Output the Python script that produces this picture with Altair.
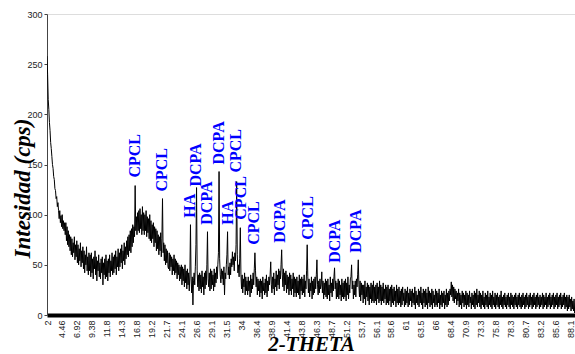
import altair as alt
import pandas as pd

# ---- intensity (cps); scan grid 2.0 deg, step 0.1 deg ----
intensity = [
    258, 240, 215, 205, 192, 184, 172, 166, 158, 150,   # 2
    146, 138, 135, 126, 124, 116, 118, 108, 112, 104,   # 3
    96, 104, 92, 99, 88, 100, 86, 94, 84, 92,           # 4
    80, 92, 74, 88, 70, 84, 68, 80, 64, 78,             # 5
    60, 76, 58, 72, 62, 78, 55, 70, 58, 74,             # 6
    52, 70, 50, 66, 54, 72, 48, 64, 52, 68,             # 7
    46, 64, 42, 60, 50, 68, 44, 58, 40, 62,             # 8
    44, 60, 38, 62, 42, 56, 36, 58, 46, 64,             # 9
    40, 58, 34, 54, 44, 60, 38, 52, 36, 56,             # 10
    42, 58, 30, 52, 40, 56, 36, 60, 38, 54,             # 11
    34, 56, 42, 60, 38, 54, 44, 62, 40, 58,             # 12
    42, 60, 46, 64, 40, 58, 48, 66, 44, 62,             # 13
    48, 66, 52, 70, 46, 64, 54, 72, 50, 68,             # 14
    56, 74, 60, 78, 58, 80, 64, 84, 62, 86,             # 15
    68, 90, 72, 88, 78, 129, 84, 98, 80, 102,           # 16
    84, 104, 82, 106, 86, 100, 80, 108, 84, 102,        # 17
    80, 100, 84, 104, 78, 98, 82, 96, 76, 100,          # 18
    74, 94, 72, 90, 76, 92, 68, 88, 72, 86,             # 19
    64, 84, 66, 80, 60, 78, 64, 82, 58, 76,             # 20
    116, 62, 72, 54, 70, 50, 66, 52, 64, 48,            # 21
    46, 62, 44, 60, 48, 58, 40, 56, 44, 60,             # 22
    40, 56, 42, 54, 36, 52, 40, 50, 34, 48,             # 23
    36, 50, 30, 48, 34, 46, 28, 50, 32, 44,             # 24
    26, 46, 30, 42, 24, 40, 90, 36, 22, 38,             # 25
    10, 34, 42, 30, 48, 70, 127, 44, 28, 40,            # 26
    24, 42, 26, 40, 22, 44, 28, 38, 20, 42,             # 27
    26, 44, 30, 50, 83, 36, 28, 42, 24, 46,             # 28
    26, 44, 30, 40, 24, 46, 28, 42, 32, 48,             # 29
    36, 50, 62, 143, 56, 40, 32, 46, 36, 44,            # 30
    30, 48, 20, 42, 36, 50, 60, 83, 40, 48,             # 31
    36, 52, 40, 56, 48, 63, 50, 58, 44, 62,             # 32
    54, 70, 133, 60, 42, 50, 38, 56, 87, 40,            # 33
    26, 40, 22, 36, 28, 42, 20, 38, 24, 34,             # 34
    20, 38, 24, 34, 18, 40, 22, 36, 26, 42,             # 35
    30, 46, 62, 44, 28, 38, 20, 36, 24, 34,             # 36
    18, 36, 22, 34, 16, 38, 24, 32, 20, 36,             # 37
    22, 40, 18, 34, 24, 38, 30, 40, 53, 30,             # 38
    22, 38, 26, 42, 20, 36, 28, 44, 24, 40,             # 39
    30, 46, 26, 44, 36, 50, 65, 40, 28, 46,             # 40
    24, 42, 30, 44, 22, 40, 26, 38, 20, 42,             # 41
    24, 40, 20, 36, 26, 42, 18, 38, 22, 36,             # 42
    18, 38, 22, 34, 20, 40, 16, 36, 24, 38,             # 43
    20, 36, 22, 40, 18, 34, 26, 44, 70, 38,             # 44
    22, 36, 18, 32, 24, 38, 16, 34, 20, 36,             # 45
    22, 38, 26, 40, 55, 30, 20, 34, 22, 36,             # 46
    26, 30, 43, 22, 34, 16, 32, 20, 36, 18,             # 47
    34, 16, 36, 20, 30, 14, 38, 22, 32, 18,             # 48
    36, 24, 38, 47, 26, 34, 16, 32, 18, 36,             # 49
    16, 34, 20, 30, 14, 36, 18, 32, 16, 34,             # 50
    18, 36, 14, 32, 20, 38, 16, 30, 22, 36,             # 51
    38, 50, 26, 34, 16, 30, 20, 34, 18, 36,             # 52
    28, 40, 55, 30, 18, 34, 14, 32, 20, 30,             # 53
    12, 30, 16, 34, 10, 28, 18, 32, 14, 30,             # 54
    10, 28, 16, 32, 12, 30, 14, 34, 12, 28,             # 55
    14, 30, 10, 32, 16, 28, 12, 34, 14, 30,             # 56
    10, 28, 14, 32, 12, 26, 16, 30, 10, 28,             # 57
    12, 30, 10, 26, 14, 28, 8, 30, 12, 26,              # 58
    10, 28, 14, 24, 8, 30, 12, 26, 10, 28,              # 59
    12, 24, 8, 26, 10, 28, 14, 22, 8, 26,               # 60
    10, 24, 12, 28, 8, 22, 10, 26, 14, 24,              # 61
    8, 26, 12, 22, 10, 28, 6, 24, 12, 20,               # 62
    10, 26, 8, 24, 12, 28, 10, 22, 6, 26,               # 63
    12, 24, 8, 26, 10, 22, 6, 28, 12, 24,               # 64
    8, 22, 10, 26, 6, 24, 12, 20, 8, 26,                # 65
    10, 24, 8, 22, 12, 26, 6, 20, 10, 24,               # 66
    8, 22, 12, 24, 6, 20, 10, 26, 8, 22,                # 67
    10, 24, 14, 26, 20, 33, 18, 30, 14, 28,             # 68
    12, 26, 16, 24, 10, 22, 14, 26, 8, 22,              # 69
    10, 20, 6, 24, 12, 22, 8, 20, 10, 24,               # 70
    6, 22, 10, 20, 8, 24, 12, 18, 6, 22,                # 71
    10, 20, 8, 24, 6, 22, 10, 26, 8, 20,                # 72
    12, 24, 8, 22, 6, 20, 10, 24, 8, 18,                # 73
    6, 22, 10, 20, 8, 24, 6, 18, 10, 22,                # 74
    8, 20, 6, 24, 10, 18, 8, 22, 6, 20,                 # 75
    10, 22, 8, 18, 6, 20, 10, 24, 8, 18,                # 76
    6, 20, 10, 22, 8, 18, 6, 20, 10, 22,                # 77
    8, 18, 6, 22, 10, 20, 8, 18, 6, 20,                 # 78
    10, 22, 8, 18, 6, 20, 10, 22, 8, 18,                # 79
    6, 20, 8, 22, 10, 18, 6, 20, 8, 22,                 # 80
    10, 18, 6, 20, 8, 22, 10, 18, 6, 20,                # 81
    8, 22, 10, 18, 6, 20, 8, 22, 10, 18,                # 82
    6, 20, 8, 18, 10, 22, 6, 20, 8, 18,                 # 83
    10, 22, 6, 18, 8, 20, 10, 22, 6, 18,                # 84
    8, 20, 10, 22, 6, 18, 8, 20, 10, 22,                # 85
    6, 18, 8, 20, 10, 22, 6, 18, 8, 20,                 # 86
    10, 22, 6, 18, 8, 20, 4, 18, 6, 20,                 # 87
    8, 16, 4, 18, 6, 14, 4, 16, 2, 12,                  # 88
]
scan_start = 2.0
scan_step = 0.1
two_theta = [round(scan_start + scan_step * i, 2) for i in range(len(intensity))]

# ---- axis ticks ----
x_tick_values = [2, 4.46, 6.92, 9.38, 11.84, 14.3, 16.76, 19.22, 21.68, 24.14,
                 26.6, 29.06, 31.52, 33.98, 36.44, 38.9, 41.36, 43.82, 46.28,
                 48.74, 51.2, 53.66, 56.12, 58.58, 61.04, 63.5, 65.96, 68.42,
                 70.88, 73.34, 75.8, 78.26, 80.72, 83.18, 85.64, 88.1]
x_tick_labels = ["2", "4.46", "6.92", "9.38", "11.8", "14.3", "16.8", "19.2",
                 "21.7", "24.1", "26.6", "29.1", "31.5", "34", "36.4", "38.9",
                 "41.4", "43.8", "46.3", "48.7", "51.2", "53.7", "56.1", "58.6",
                 "61", "63.5", "66", "68.4", "70.9", "73.3", "75.8", "78.3",
                 "80.7", "83.2", "85.6", "88.1"]
y_ticks = [0, 50, 100, 150, 200, 250, 300]

# ---- phase labels ----
phase_names = ["CPCL", "CPCL", "HA", "DCPA", "DCPA", "DCPA", "HA", "CPCL",
               "CPCL", "CPCL", "DCPA", "CPCL", "DCPA", "DCPA"]
phase_x = [16.5, 20.9, 25.5, 26.5, 28.3, 30.3, 31.7, 33.1,
           33.9, 36.0, 40.4, 44.9, 49.3, 52.9]
phase_y = [137, 123, 97, 128, 90, 150, 90, 142,
           95, 70, 72, 75, 52, 62]

df = pd.DataFrame({"theta": two_theta, "cps": intensity})
ann = pd.DataFrame({"name": phase_names, "theta": phase_x, "cps": phase_y})

vals_js = "[" + ",".join(str(v) for v in x_tick_values) + "]"
labs_js = "[" + ",".join("'" + s + "'" for s in x_tick_labels) + "]"
label_expr = f"{labs_js}[indexof({vals_js}, datum.value)]"

x_scale = alt.Scale(domain=[2, 88.85], nice=False, zero=False)
y_scale = alt.Scale(domain=[0, 300], nice=False)

line = alt.Chart(df).mark_line(color="black", strokeWidth=1, clip=True).encode(
    x=alt.X("theta:Q", scale=x_scale,
            axis=alt.Axis(values=x_tick_values, tickCount=100,
                          labelExpr=label_expr,
                          labelAngle=-90, labelFontSize=9,
                          labelFont="Liberation Sans", labelColor="#222",
                          ticks=False, tickSize=0, labelPadding=5,
                          labelOverlap=False, labelSeparation=0,
                          labelFlush=False, labelBound=False,
                          domainColor="black", domainWidth=4, grid=False,
                          title="2-THETA", titleFont="Liberation Serif",
                          titleFontSize=21, titleFontStyle="italic",
                          titleFontWeight="bold", titleColor="black",
                          titleX=264, titleY=35, titleAlign="center",
                          titleBaseline="alphabetic")),
    y=alt.Y("cps:Q", scale=y_scale,
            axis=alt.Axis(values=y_ticks, tickCount=20, labelFontSize=9,
                          labelFont="Liberation Sans", labelColor="#222",
                          tickSize=3, tickColor="#444", labelPadding=2,
                          domainColor="#444", domainWidth=1, grid=False,
                          title="Intesidad (cps)", titleFont="Liberation Serif",
                          titleFontSize=23, titleFontStyle="italic",
                          titleFontWeight="bold", titleColor="black",
                          titleX=-25, titleY=174, titleAngle=-90,
                          titleAlign="center", titleBaseline="middle")),
)

labels = alt.Chart(ann).mark_text(
    color="#0000FF", font="Liberation Serif", fontWeight="bold", fontSize=16,
    angle=270, align="left", baseline="middle"
).encode(
    x=alt.X("theta:Q", scale=x_scale),
    y=alt.Y("cps:Q", scale=y_scale),
    text="name:N",
)

chart = alt.layer(line, labels).properties(
    width=528, height=301,
    autosize=alt.AutoSizeParams(type="none"),
    padding={"left": 47, "top": 14, "right": 0, "bottom": 39},
).configure_view(stroke=None).configure(background="white")

chart.save("out.html", embed_options={"renderer": "svg", "actions": False})
